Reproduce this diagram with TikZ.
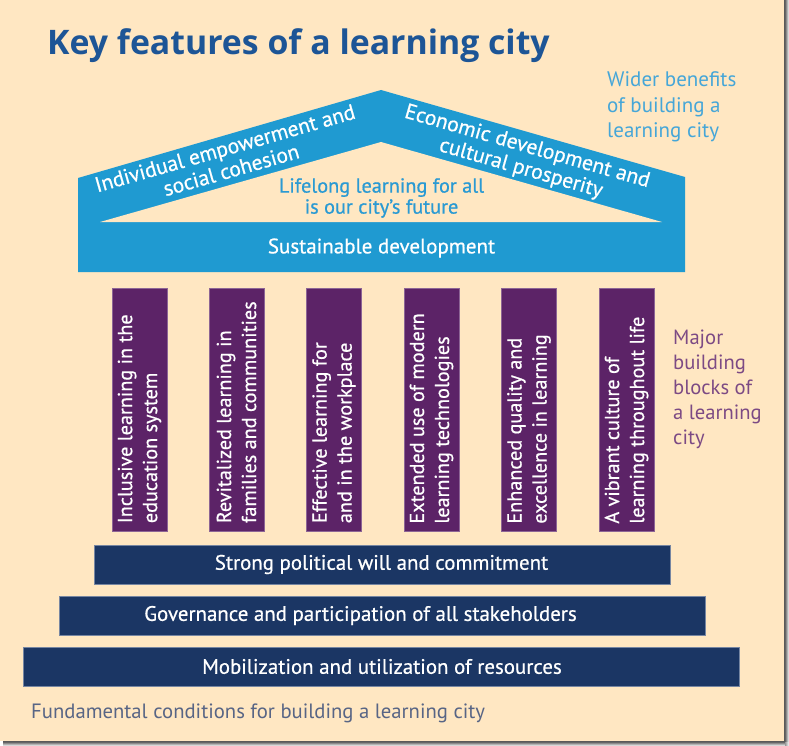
\documentclass[tikz,border=0pt]{standalone}
\usepackage{fontspec}
\setmainfont{PT Sans}
\newfontfamily\medfont{PT Sans}[FakeBold=0.6]
\newfontfamily\titlefont{Open Sans}
\definecolor{bg}{HTML}{FFE7C2}
\definecolor{roofblue}{HTML}{1F9AD1}
\definecolor{lifeblue}{HTML}{2A9AD3}
\definecolor{widerblue}{HTML}{45A6D8}
\definecolor{pillarpurple}{HTML}{5C2367}
\definecolor{majorpurple}{HTML}{7C4A84}
\definecolor{navy}{HTML}{1B3664}
\definecolor{titleblue}{HTML}{1D5596}
\definecolor{fundgray}{HTML}{586585}
\tikzset{
  pillar/.style={fill=pillarpurple, draw=pillarpurple!70!white, line width=0.6pt, minimum width=55pt, minimum height=243pt, inner sep=0pt},
  coltext/.style={rotate=90, anchor=west, align=left, inner sep=0pt, text=white, font=\medfont\fontsize{20.2}{25}\selectfont},
  bar/.style={fill=navy, draw=navy!60!white, line width=0.6pt, minimum height=39pt, inner sep=0pt},
  bartext/.style={text=white, inner sep=0pt, font=\medfont\fontsize{20.9}{24}\selectfont},
  rooftext/.style={text=white, align=center, inner sep=0pt, font=\medfont\fontsize{21.5}{22.5}\selectfont},
  sidetext/.style={anchor=west, align=left, inner sep=0pt, font=\fontsize{21}{25.5}\selectfont},
}
\begin{document}
\begin{tikzpicture}[x=1pt,y=-1pt]
\useasboundingbox (0,0) rectangle (789,746);
\fill[white] (0,0) rectangle (789,746);
% drop shadow of the screenshot
\shade[left color=black!60, right color=white] (785,0) rectangle (789,742);
\shade[top color=black!60, bottom color=white] (3,742) rectangle (785,746);
\shade[left color=black!40, right color=white] (785,742) rectangle (789,746);
\fill[bg] (0,0) rectangle (784,741);
\draw[black!65, line width=1pt] (784.5,0) -- (784.5,741.5) -- (3,741.5);

% title
\node[anchor=base west, inner sep=0pt, text=titleblue, font=\titlefont\fontsize{33.8}{36}\selectfont\bfseries] (title) at (47,55) {Key features of a learning city};

% roof
\fill[roofblue] (78,272) -- (78,178) -- (381,90) -- (685,177) -- (685,272) -- cycle;
\fill[bg] (100,222) -- (381,142) -- (662,222) -- cycle;
\node[rooftext, rotate=16] (empower) at (228,159) {Individual empowerment and\\social cohesion};
\node[rooftext, rotate=-16] (economic) at (524,158) {Economic development and\\cultural prosperity};
\node[align=center, inner sep=0pt, text=lifeblue, font=\medfont\fontsize{20.3}{21}\selectfont] (life) at (381.5,198) {Lifelong learning for all\\is our city’s future};
\node[text=white, inner sep=0pt, font=\medfont\fontsize{21}{24}\selectfont] (sust) at (381.5,248) {Sustainable development};

\node[sidetext, text=widerblue] (wider) at (607,107) {Wider benefits\\of building a\\learning city};

% pillars
\node[pillar] (c1) at (139.5,409.5) {};
\node[pillar] (c2) at (236.5,409.5) {};
\node[pillar] (c3) at (334,409.5) {};
\node[pillar] (c4) at (431.5,410) {};
\node[pillar] (c5) at (529,410) {};
\node[pillar] (c6) at (626.5,410) {};
\node[coltext] (t1) at ([yshift=8pt]c1.south) {Inclusive learning in the\\education system};
\node[coltext] (t2) at ([yshift=8pt]c2.south) {Revitalized learning in\\families and communities};
\node[coltext] (t3) at ([yshift=8pt]c3.south) {Effective learning for\\and in the workplace};
\node[coltext] (t4) at ([yshift=8pt]c4.south) {Extended use of modern\\learning technologies};
\node[coltext] (t5) at ([yshift=8pt]c5.south) {Enhanced quality and\\excellence in learning};
\node[coltext] (t6) at ([yshift=8pt]c6.south) {A vibrant culture of\\learning throughout life};

\node[sidetext, text=majorpurple, font=\fontsize{20.6}{25}\selectfont] (major) at (673,389) {Major\\building\\blocks of\\a learning\\city};

% foundation bars
\node[bar, minimum width=576pt] (b1) at (382,564.5) {};
\node[bar, minimum width=646pt] (b2) at (382,615.5) {};
\node[bar, minimum width=716pt] (b3) at (381,666.5) {};
\node[bartext] (bt1) at (381.5,564.5) {Strong political will and commitment};
\node[bartext] (bt2) at (360.5,615.5) {Governance and participation of all stakeholders};
\node[bartext] (bt3) at (382,666.5) {Mobilization and utilization of resources};

\node[anchor=base west, inner sep=0pt, text=fundgray, font=\fontsize{20.7}{24}\selectfont] (fund) at (31,718) {Fundamental conditions for building a learning city};
\end{tikzpicture}
\end{document}
